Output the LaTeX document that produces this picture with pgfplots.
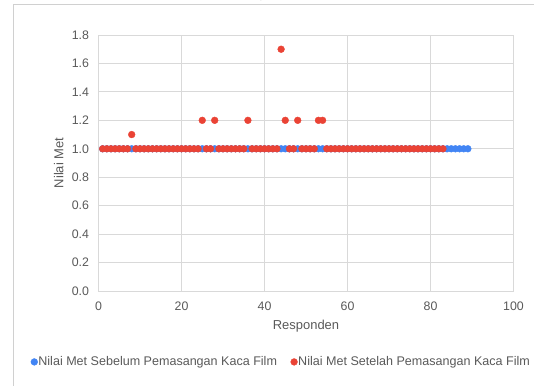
\documentclass[border=0pt]{standalone}
\usepackage{pgfplots}
\pgfplotsset{compat=1.18}
\usepackage{fontspec}
\setmainfont{Liberation Sans}
\newfontfamily\titlefont{Liberation Serif}

\definecolor{gblue}{HTML}{4285F4}
\definecolor{gred}{HTML}{EA4335}
\definecolor{gridgray}{HTML}{D9D9D9}
\definecolor{txtgray}{HTML}{595959}
\definecolor{framegray}{HTML}{D0D0D0}

\begin{document}
\begin{tikzpicture}[x=1bp,y=1bp]
\useasboundingbox (0,0) rectangle (534,385);
% outer chart frame
\draw[framegray, line width=0.8bp] (13.6,-20) |- (600,380.6);
% heading line (mostly above the visible area)
\node[anchor=base, inner sep=0pt, font=\titlefont\bfseries\fontsize{14}{16}\selectfont] at (261,387) {g};

\begin{axis}[
  at={(98.5bp,94bp)}, anchor=south west,
  scale only axis,
  width=415bp, height=256bp,
  xmin=0, xmax=100, ymin=0, ymax=1.8,
  xtick={0,20,...,100},
  ytick={0,0.2,...,1.8},
  yticklabel style={/pgf/number format/fixed, /pgf/number format/fixed zerofill, /pgf/number format/precision=1, /tikz/xshift=-6bp},
  /pgf/number format/assume math mode=true,
  grid=major,
  major grid style={color=gridgray, line width=0.8bp},
  axis line style={color=gridgray, line width=0.8bp},
  major tick length=0pt,
  tick label style={font=\fontsize{12.4}{14}\selectfont, color=txtgray},
  xticklabel style={yshift=-7.5bp},
  xlabel={Responden},
  ylabel={Nilai Met},
  label style={font=\fontsize{13}{15}\selectfont, color=txtgray},
  xlabel style={at={(axis description cs:0.5,-0.1367)}, anchor=center},
  ylabel style={at={(axis description cs:-0.0959,0.5)}, anchor=center},
  legend columns=2,
  legend style={at={(axis description cs:0.4386,-0.277)}, anchor=center,
    draw=none, fill=none, font=\fontsize{12.6}{14}\selectfont,
    text=txtgray, nodes={inner sep=0.5bp},
    /tikz/every odd column/.append style={column sep=0bp},
    /tikz/every even column/.append style={column sep=13bp}},
  legend image code/.code={\fill[#1] (0bp,0bp) circle (3.4bp);},
  clip=false,
]
% before the window film was installed
\addplot[only marks, mark=*, mark size=3.4bp, color=gblue, mark options={draw=gblue, fill=gblue}]
  table {
x y
1 1
2 1
3 1
4 1
5 1
6 1
7 1
8 1
9 1
10 1
11 1
12 1
13 1
14 1
15 1
16 1
17 1
18 1
19 1
20 1
21 1
22 1
23 1
24 1
25 1
26 1
27 1
28 1
29 1
30 1
31 1
32 1
33 1
34 1
35 1
36 1
37 1
38 1
39 1
40 1
41 1
42 1
43 1
44 1
45 1
46 1
47 1
48 1
49 1
50 1
51 1
52 1
53 1
54 1
55 1
56 1
57 1
58 1
59 1
60 1
61 1
62 1
63 1
64 1
65 1
66 1
67 1
68 1
69 1
70 1
71 1
72 1
73 1
74 1
75 1
76 1
77 1
78 1
79 1
80 1
81 1
82 1
83 1
84 1
85 1
86 1
87 1
88 1
89 1
};
\addlegendentry{Nilai Met Sebelum Pemasangan Kaca Film}
% after the window film was installed
\addplot[only marks, mark=*, mark size=3.4bp, color=gred, mark options={draw=gred, fill=gred}]
  table {
x y
1 1
2 1
3 1
4 1
5 1
6 1
7 1
8 1.1
9 1
10 1
11 1
12 1
13 1
14 1
15 1
16 1
17 1
18 1
19 1
20 1
21 1
22 1
23 1
24 1
25 1.2
26 1
27 1
28 1.2
29 1
30 1
31 1
32 1
33 1
34 1
35 1
36 1.2
37 1
38 1
39 1
40 1
41 1
42 1
43 1
44 1.7
45 1.2
46 1
47 1
48 1.2
49 1
50 1
51 1
52 1
53 1.2
54 1.2
55 1
56 1
57 1
58 1
59 1
60 1
61 1
62 1
63 1
64 1
65 1
66 1
67 1
68 1
69 1
70 1
71 1
72 1
73 1
74 1
75 1
76 1
77 1
78 1
79 1
80 1
81 1
82 1
83 1
};
\addlegendentry{Nilai Met Setelah Pemasangan Kaca Film}
\end{axis}
\end{tikzpicture}
\end{document}
